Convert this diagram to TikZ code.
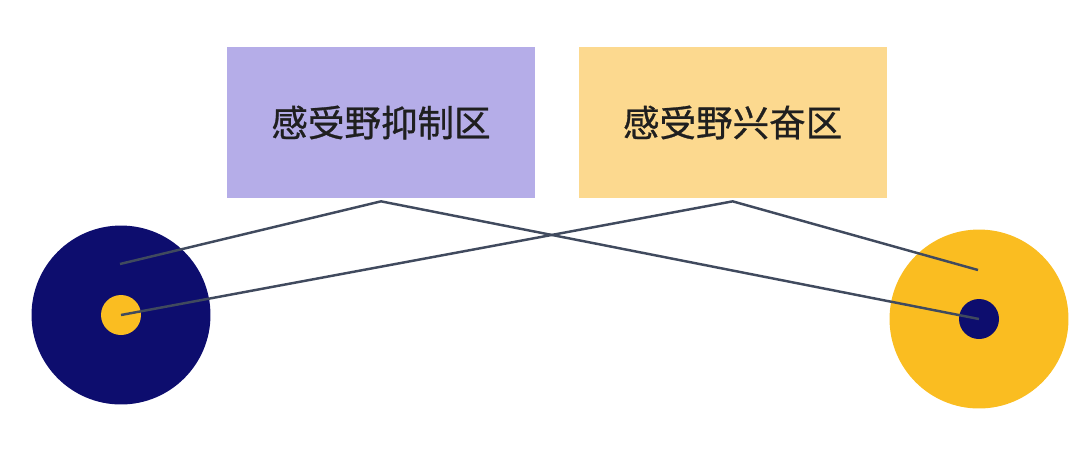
\documentclass[tikz,border=0pt]{standalone}
\usepackage{fontspec}
\newfontfamily\cjk[FakeBold=0.8]{Noto Sans CJK SC}
\usetikzlibrary{positioning}
\definecolor{mnavy}{rgb}{0.05, 0.05, 0.43}
\definecolor{mgold}{rgb}{0.98, 0.74, 0.13}
\definecolor{mlilac}{rgb}{0.71, 0.68, 0.91}
\definecolor{mpeach}{rgb}{0.99, 0.85, 0.56}
\definecolor{mwire}{rgb}{0.25, 0.29, 0.37}
\tikzset{field/.style = {minimum width=6.16cm, minimum height=3.02cm, inner sep=0pt,
                         font=\cjk\fontsize{20.8}{24}\selectfont, text=black!88}}
\tikzset{cell/.style = {circle, inner sep=0pt, minimum size=3.58cm}}
\tikzset{centre/.style = {circle, inner sep=0pt, minimum size=0.8cm}}
\tikzset{wire/.style = {mwire, line width=1.4pt}}

\begin{document}
\begin{tikzpicture}[x=0.02cm, y=-0.02cm]
    \useasboundingbox (0, 0) rectangle (1092, 458);
    \node [field, fill=mlilac] (inhib) at (381, 122.5) {感受野抑制区};
    \node [field, fill=mpeach, right=0.86cm of inhib] (excit) {感受野兴奋区};
    \node [cell, fill=mnavy] (offcell) at (121, 315) {};
    \node [centre, fill=mgold] (offctr) at (offcell) {};
    \node [cell, fill=mgold] (oncell) at (979, 319) {};
    \node [centre, fill=mnavy] (onctr) at (oncell) {};
    \coordinate (inhibtip) at ([yshift=-0.06cm]inhib.south);
    \coordinate (excittip) at ([yshift=-0.06cm]excit.south);
    \coordinate (offsur) at (120, 264);
    \coordinate (onsur) at (978, 270);
    \draw [wire] (offsur) -- (inhibtip) -- (onctr.center);
    \draw [wire] (offctr.center) -- (excittip) -- (onsur);
\end{tikzpicture}
\end{document}
